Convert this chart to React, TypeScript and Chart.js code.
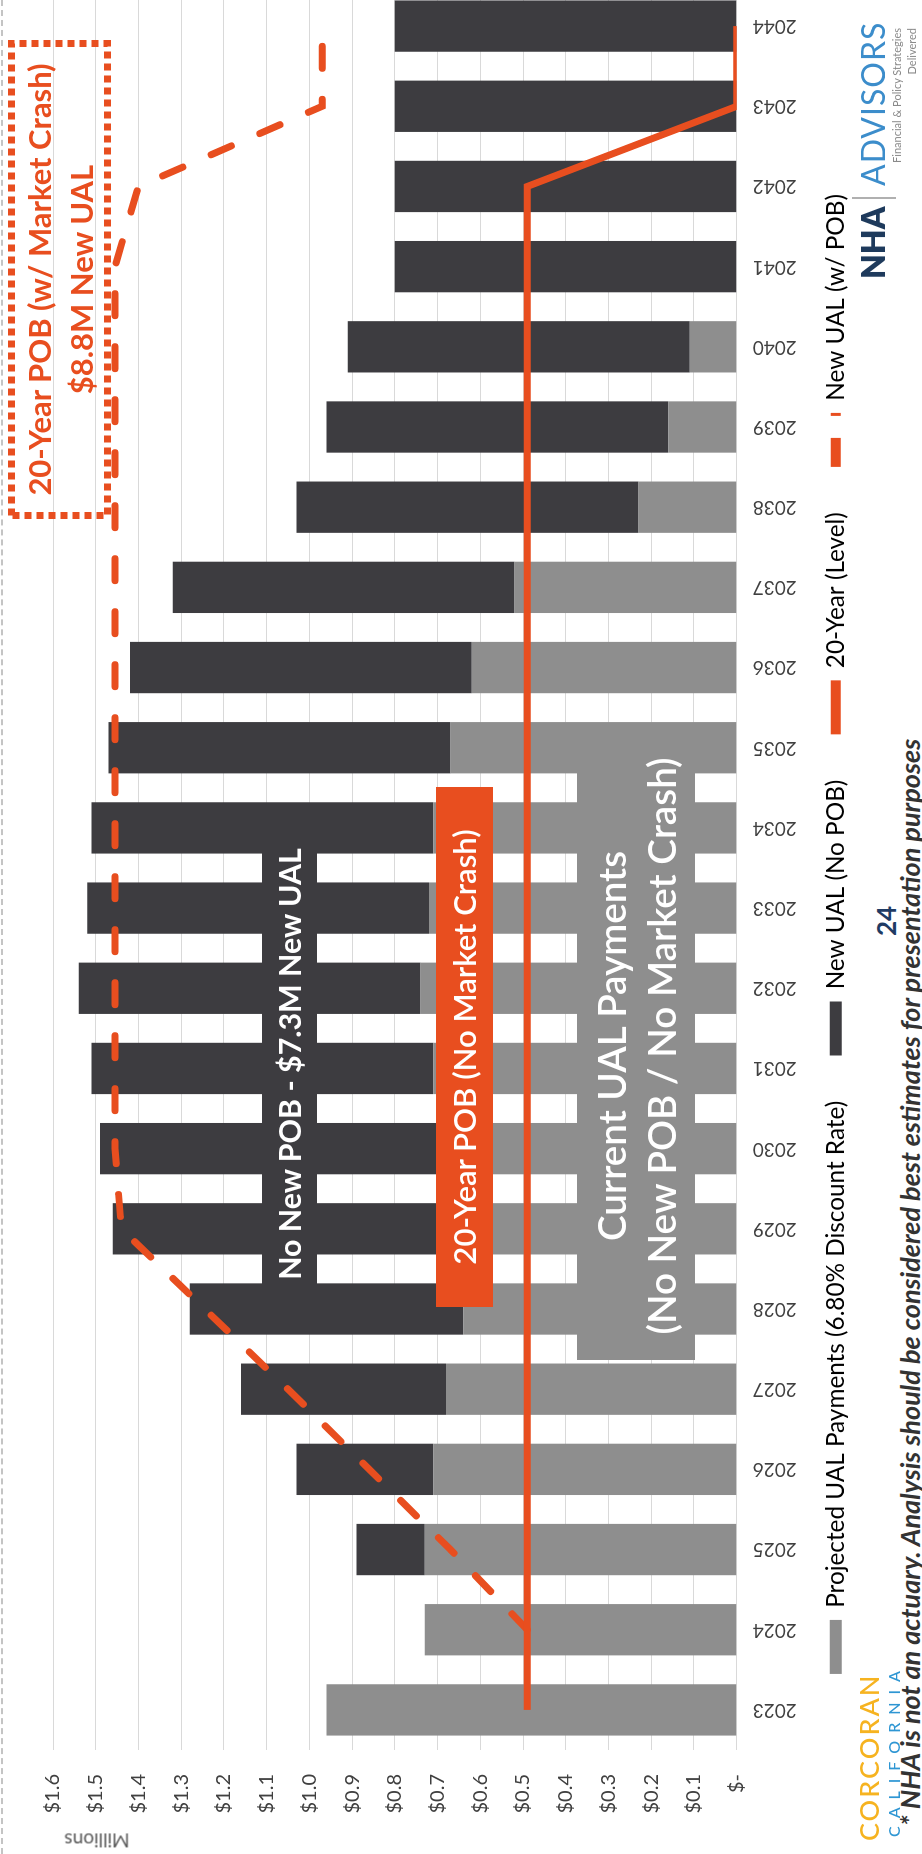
import React, { useEffect, useRef, useMemo } from 'react';
import { Chart, registerables } from 'chart.js';

Chart.register(...registerables);

// ---------- data ----------
const years = ['2023', '2024', '2025', '2026', '2027', '2028', '2029', '2030', '2031', '2032', '2033', '2034', '2035', '2036', '2037', '2038', '2039', '2040', '2041', '2042', '2043', '2044'];
const projectedUalPayments = [0.96, 0.73, 0.73, 0.71, 0.68, 0.64, 0.66, 0.69, 0.71, 0.74, 0.72, 0.71, 0.67, 0.62, 0.52, 0.23, 0.16, 0.11, 0, 0, 0, 0];
const newUalNoPob = [0, 0, 0.16, 0.32, 0.48, 0.64, 0.8, 0.8, 0.8, 0.8, 0.8, 0.8, 0.8, 0.8, 0.8, 0.8, 0.8, 0.8, 0.8, 0.8, 0.8, 0.8];
const twentyYearLevel = [0.49, 0.49, 0.49, 0.49, 0.49, 0.49, 0.49, 0.49, 0.49, 0.49, 0.49, 0.49, 0.49, 0.49, 0.49, 0.49, 0.49, 0.49, 0.49, 0.49, 0, 0];
const newUalWithPob = [null, 0.49, 0.67, 0.86, 1.05, 1.245, 1.44, 1.455, 1.455, 1.455, 1.455, 1.455, 1.455, 1.455, 1.455, 1.455, 1.455, 1.455, 1.455, 1.4, 0.97, 0.97];
const valueTickLabels = ['$-', '$0.1', '$0.2', '$0.3', '$0.4', '$0.5', '$0.6', '$0.7', '$0.8', '$0.9', '$1.0', '$1.1', '$1.2', '$1.3', '$1.4', '$1.5', '$1.6'];
const seriesNames = ['Projected UAL Payments (6.80% Discount Rate)', 'New UAL (No POB)', '20-Year (Level)', 'New UAL (w/ POB)'];

// ---------- styles ----------
const GRAY = '#8e8e8e';
const DARK = '#3d3c40';
const ORANGE = '#e84e1f';
const TEXT = '#404040';
const FONT = 'Lato, "Liberation Sans", sans-serif';

const SLIDE_W = 1854;
const SLIDE_H = 922;
const BASE_W = 1880;
const CANVAS_H = 858;
const LEGEND_BOX = 54;
const LEGEND_PAD = 21;
const LEGEND_GAP = '\u2002\u2002';
const LEGEND_START = 180;

function measure(text: string, size: number, weight = '400', style = 'normal'): number {
  const c = document.createElement('canvas').getContext('2d')!;
  c.font = `${style} ${weight} ${size}px ${FONT}`;
  return c.measureText(text).width;
}
function fit(text: string, target: number, weight: string, style = 'normal'): number {
  return (100 * target) / measure(text, 100, weight, style);
}

const abs = (o: React.CSSProperties): React.CSSProperties => ({ position: 'absolute', pointerEvents: 'none', whiteSpace: 'nowrap', ...o });

export default function App() {
  const ref = useRef<HTMLCanvasElement>(null);

  const sizes = useMemo(() => {
    const legend = (100 * 1080) / seriesNames.reduce((a, t) => a + measure(t, 100), 0);
    const legendTexts = seriesNames.map((t, i) => (i < seriesNames.length - 1 ? t + LEGEND_GAP : t));
    const rowWidth = legendTexts.reduce((a, t) => a + LEGEND_BOX + legend / 2 + measure(t, legend) + LEGEND_PAD, 0);
    // canvas extends left of the slide so that the centred legend starts where the original one does
    const shift = Math.max(0, Math.round(BASE_W - 12 + LEGEND_PAD - rowWidth - 2 * LEGEND_START));
    return {
      noPob: fit('No New POB - $7.3M New UAL', 433, '700'),
      pob: fit('20-Year POB (No Market Crash)', 436, '600'),
      curr: fit('(No New POB / No Market Crash)', 578, '600'),
      box: fit('20-Year POB (w/ Market Crash)', 433, '700'),
      footer: fit('* NHA is not an actuary. Analysis should be considered best estimates for presentation purposes', 1090, '700', 'italic'),
      legend,
      legendTexts,
      shift,
    };
  }, []);

  const canvasW = BASE_W + sizes.shift;

  useEffect(() => {
    document.body.style.margin = '0';
    document.documentElement.style.overflow = 'hidden';
    Chart.defaults.font.family = FONT;
    const lt = sizes.legendTexts;
    const chart = new Chart(ref.current!, {
      type: 'bar',
      data: {
        labels: years,
        datasets: [
          { type: 'bar', label: seriesNames[0], data: projectedUalPayments, backgroundColor: GRAY, stack: 'bars', barPercentage: 0.64, categoryPercentage: 1, order: 3 },
          { type: 'bar', label: seriesNames[1], data: newUalNoPob, backgroundColor: DARK, stack: 'bars', barPercentage: 0.64, categoryPercentage: 1, order: 3 },
          { type: 'line', label: seriesNames[2], data: twentyYearLevel, borderColor: ORANGE, backgroundColor: ORANGE, borderWidth: 7, pointRadius: 0, tension: 0, stack: 'lvl', order: 1 },
          { type: 'line', label: seriesNames[3], data: newUalWithPob, borderColor: ORANGE, backgroundColor: ORANGE, borderWidth: 7, borderDash: [22, 31], borderCapStyle: 'round', pointRadius: 0, tension: 0, stack: 'pob', order: 2 },
        ] as any,
      },
      options: {
        responsive: false,
        devicePixelRatio: 1,
        animation: false,
        events: [],
        layout: { padding: { top: 53, right: 12, left: 0, bottom: 0 } },
        plugins: {
          tooltip: { enabled: false },
          legend: {
            position: 'bottom',
            labels: {
              usePointStyle: true,
              pointStyleWidth: LEGEND_BOX,
              boxHeight: 12,
              padding: LEGEND_PAD,
              color: TEXT,
              font: { size: sizes.legend, family: FONT },
              generateLabels: () => [
                { text: lt[0], fillStyle: GRAY, strokeStyle: GRAY, lineWidth: 0, pointStyle: 'rect', hidden: false, datasetIndex: 0 },
                { text: lt[1], fillStyle: DARK, strokeStyle: DARK, lineWidth: 0, pointStyle: 'rect', hidden: false, datasetIndex: 1 },
                { text: lt[2], fillStyle: ORANGE, strokeStyle: ORANGE, lineWidth: 10, lineCap: 'butt', pointStyle: 'line', hidden: false, datasetIndex: 2 },
                { text: lt[3], fillStyle: ORANGE, strokeStyle: ORANGE, lineWidth: 10, lineCap: 'butt', lineDash: [29, 22], pointStyle: 'line', hidden: false, datasetIndex: 3 },
              ] as any,
            },
          },
        },
        scales: {
          x: {
            stacked: true,
            grid: { display: false, drawTicks: false },
            border: { display: false },
            ticks: { autoSkip: false, maxRotation: 90, minRotation: 90, padding: 16, color: TEXT, font: { size: 19 } },
            afterFit: (s: any) => { s.height = 66; },
          },
          y: {
            stacked: true,
            min: 0,
            max: 1.6,
            grid: { color: '#d9d9d9', lineWidth: 1, drawTicks: false },
            border: { display: false },
            ticks: {
              stepSize: 0.1,
              padding: 24,
              color: TEXT,
              font: { size: 20 },
              callback: (v: any) => valueTickLabels[Math.round(Number(v) * 10)] ?? '',
            },
            afterFit: (s: any) => { s.width = 104 + sizes.shift; },
          },
        },
      } as any,
    });
    return () => chart.destroy();
  }, [sizes]);

  return (
    <div
      style={{
        position: 'absolute', left: 0, top: 0, width: SLIDE_W, height: SLIDE_H, overflow: 'hidden',
        background: '#fff', transformOrigin: '0 0', transform: `translateY(${SLIDE_W}px) rotate(-90deg)`, fontFamily: FONT,
      }}
    >
      <canvas ref={ref} width={canvasW} height={CANVAS_H} style={{ position: 'absolute', left: -sizes.shift, top: 0, width: canvasW, height: CANVAS_H }} />

      {/* slide border */}
      <div style={abs({ left: 0, top: 1, width: SLIDE_W, borderTop: '2px dashed #c4c4c4' })} />

      {/* axis title */}
      <div style={abs({ left: 13, top: 97, transform: 'translate(-50%, -50%) rotate(-90deg)', fontSize: 19, color: '#595959' })}>Millions</div>

      {/* No New POB annotation */}
      <div style={abs({ left: 566, top: 262, width: 474, height: 55, background: DARK })} />
      <div style={abs({ left: 490, top: 262, width: 600, height: 55, lineHeight: '55px', textAlign: 'center', color: '#fff', fontWeight: 700, fontSize: sizes.noPob })}>No New POB - $7.3M New UAL</div>

      {/* 20-Year POB (No Market Crash) */}
      <div style={abs({ left: 547, top: 436, width: 520, height: 57, background: ORANGE })} />
      <div style={abs({ left: 407, top: 436, width: 800, height: 57, lineHeight: '57px', textAlign: 'center', color: '#fff', fontWeight: 600, fontSize: sizes.pob })}>20-Year POB (No Market Crash)</div>

      {/* Current UAL Payments */}
      <div style={abs({ left: 494, top: 577, width: 589, height: 118, background: GRAY })} />
      <div style={abs({ left: 408, top: 577, width: 800, height: 118, display: 'flex', flexDirection: 'column', justifyContent: 'center', alignItems: 'center', color: '#fff', fontWeight: 600, fontSize: sizes.curr, lineHeight: '50px' })}>
        <div>Current UAL Payments</div>
        <div>(No New POB / No Market Crash)</div>
      </div>

      {/* 20-Year POB (w/ Market Crash) box */}
      <svg style={abs({ left: 1335, top: 8, width: 479, height: 103 })} width={479} height={103}>
        <rect x={3.5} y={3.5} width={472} height={96} fill="none" stroke={ORANGE} strokeWidth={7} strokeDasharray="7 5" />
      </svg>
      <div style={abs({ left: 1335, top: 8, width: 479, height: 103, display: 'flex', flexDirection: 'column', justifyContent: 'center', alignItems: 'center', color: ORANGE, fontWeight: 700, fontSize: sizes.box, lineHeight: '42px' })}>
        <div>20-Year POB (w/ Market Crash)</div>
        <div>$8.8M New UAL</div>
      </div>

      {/* footer (cut by the bottom edge of the scan) */}
      <div style={abs({ left: 28, top: 904 - 0.367 * sizes.footer, fontSize: sizes.footer, lineHeight: 1.2, fontStyle: 'italic', fontWeight: 700, color: '#333' })}>
        * NHA is not an actuary. Analysis should be considered best estimates for presentation purposes
      </div>
      <div style={abs({ left: 933, top: 871, transform: 'translateX(-50%)', fontSize: 26, lineHeight: 1.2, fontWeight: 700, color: '#1f3b64' })}>24</div>

      {/* Corcoran logo */}
      <div style={abs({ left: 13, top: 853, fontSize: 27, lineHeight: 1.2, fontWeight: 500, letterSpacing: 2, color: '#f6b320' })}>CORCORAN</div>
      <div style={abs({ left: 17, top: 884, fontSize: 16, lineHeight: 1.2, fontWeight: 500, letterSpacing: 8, color: '#2e96d3' })}>CALIFORNIA</div>

      {/* NHA Advisors logo */}
      <div style={abs({ left: 1575, top: 854, fontSize: 32, lineHeight: 1.2, fontWeight: 800, color: '#1e3a5c' })}>NHA</div>
      <div style={abs({ left: 1655, top: 852, width: 2, height: 44, background: '#b0b0b0' })} />
      <div style={abs({ left: 1668, top: 854, fontSize: 32, lineHeight: 1.2, fontWeight: 400, letterSpacing: 1, color: '#3c8dcb' })}>ADVISORS</div>
      <div style={abs({ right: SLIDE_W - 1826, top: 890, fontSize: 11, lineHeight: 1.2, color: '#8a8a8a' })}>Financial &amp; Policy Strategies</div>
      <div style={abs({ right: SLIDE_W - 1826, top: 905, fontSize: 11, lineHeight: 1.2, color: '#8a8a8a' })}>Delivered</div>
    </div>
  );
}
